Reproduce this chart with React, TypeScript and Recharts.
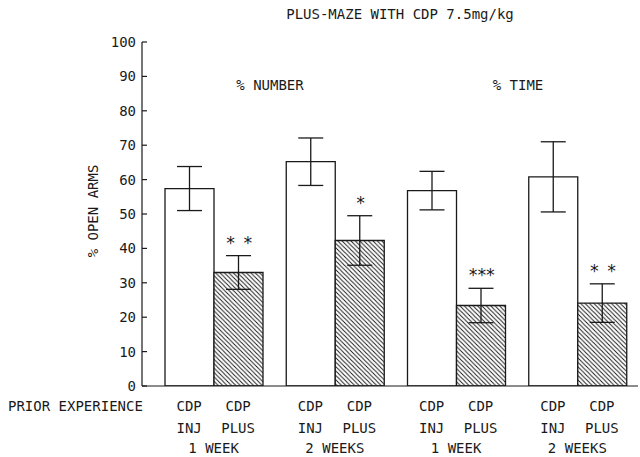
import React from 'react';
import { BarChart, Bar, XAxis, YAxis, ErrorBar, LabelList } from 'recharts';

const groups = ['1 WEEK', '2 WEEKS', '1 WEEK', '2 WEEKS'];
const injValues = [57.4, 65.2, 56.8, 60.8];
const injErrors = [6.4, 6.9, 5.6, 10.2];
const plusValues = [33.0, 42.3, 23.4, 24.1];
const plusErrors = [4.9, 7.2, 5.0, 5.6];
const plusStars = ['* *', '*', '***', '* *'];
const yTicks = [0, 10, 20, 30, 40, 50, 60, 70, 80, 90, 100];
const barRow1 = ['CDP', 'CDP'];
const barRow2 = ['INJ', 'PLUS'];
const title = 'PLUS-MAZE WITH CDP 7.5mg/kg';
const panelLabels = ['% NUMBER', '% TIME'];
const yLabel = '% OPEN ARMS';
const rowLabel = 'PRIOR EXPERIENCE';

const data = groups.map((g, i) => ({
  key: `g${i}`,
  group: g,
  inj: injValues[i],
  injErr: injErrors[i],
  plus: plusValues[i],
  plusErr: plusErrors[i],
  stars: plusStars[i],
}));

const FONT = '"DejaVu Sans Mono", monospace';
const FS = 14;
const INK = '#1a1a1a';

const XTick = (props: any) => {
  const { x, y, payload, index } = props;
  const half = 24.5;
  const g = data[index] ? data[index].group : payload.value;
  return (
    <g fontFamily={FONT} fontSize={FS} fill={INK}>
      <text x={x - half} y={y + 25} textAnchor="middle">{barRow1[0]}</text>
      <text x={x + half} y={y + 25} textAnchor="middle">{barRow1[1]}</text>
      <text x={x - half} y={y + 47} textAnchor="middle">{barRow2[0]}</text>
      <text x={x + half} y={y + 47} textAnchor="middle">{barRow2[1]}</text>
      <text x={x} y={y + 67} textAnchor="middle">{g}</text>
    </g>
  );
};

const YTick = (props: any) => {
  const { x, y, payload } = props;
  return (
    <g>
      <line x1={x} x2={x + 5} y1={y} y2={y} stroke={INK} strokeWidth={1.2} />
      <text x={x - 6} y={y + 5} textAnchor="end" fontFamily={FONT} fontSize={FS} fill={INK}>
        {payload.value}
      </text>
    </g>
  );
};

const StarLabel = (props: any) => {
  const { x, y, width, height, value, index } = props;
  const v = plusValues[index];
  if (!v) return null;
  const ppu = height / v;
  const cy = y - plusErrors[index] * ppu - 17;
  return (
    <text
      x={x + width / 2}
      y={cy + 10}
      textAnchor="middle"
      fontFamily={FONT}
      fontSize={17}
      letterSpacing={-1.5}
      fill={INK}
    >
      {value}
    </text>
  );
};

export default function App() {
  return (
    <div style={{ position: 'absolute', left: 0, top: 0, width: 640, height: 457, background: '#fff' }}>
      <svg width={0} height={0} style={{ position: 'absolute' }}>
        <defs>
          <pattern id="hatch" patternUnits="userSpaceOnUse" width={4.4} height={4.4}>
            <rect x={0} y={0} width={4.4} height={4.4} fill="#fff" />
            <path d="M0,0 L4.4,4.4 M-1,3.4 L1,5.4 M3.4,-1 L5.4,1" stroke="#111" strokeWidth={0.9} />
          </pattern>
        </defs>
      </svg>
      <BarChart
        width={640}
        height={457}
        data={data}
        margin={{ top: 42, right: 2, bottom: 0, left: 0 }}
        barSize={49}
        barGap={0}
      >
        <XAxis
          dataKey="key"
          height={71}
          padding={{ left: 11, right: 0 }}
          tickLine={false}
          tickSize={0}
          tickMargin={0}
          axisLine={{ stroke: INK, strokeWidth: 1.2 }}
          tick={<XTick />}
          interval={0}
        />
        <YAxis
          width={142}
          domain={[0, 100]}
          ticks={yTicks}
          type="number"
          allowDataOverflow
          tickLine={false}
          tickSize={0}
          tickMargin={0}
          axisLine={{ stroke: INK, strokeWidth: 1.2 }}
          tick={<YTick />}
          interval={0}
        />
        <Bar dataKey="inj" fill="#fff" stroke={INK} strokeWidth={1.3} isAnimationActive={false}>
          <ErrorBar dataKey="injErr" width={12.5} stroke={INK} strokeWidth={1.3} />
        </Bar>
        <Bar dataKey="plus" fill="url(#hatch)" stroke={INK} strokeWidth={1.3} isAnimationActive={false}>
          <ErrorBar dataKey="plusErr" width={12.5} stroke={INK} strokeWidth={1.3} />
          <LabelList dataKey="stars" content={<StarLabel />} />
        </Bar>
      </BarChart>
      <svg
        width={640}
        height={457}
        style={{ position: 'absolute', left: 0, top: 0, pointerEvents: 'none' }}
        fontFamily={FONT}
        fontSize={FS}
        fill={INK}
      >
        <text x={400} y={19} textAnchor="middle">{title}</text>
        <text x={270} y={90} textAnchor="middle">{panelLabels[0]}</text>
        <text x={518} y={90} textAnchor="middle">{panelLabels[1]}</text>
        <text x={8} y={411}>{rowLabel}</text>
        <text x={0} y={0} textAnchor="middle" transform="translate(98,211) rotate(-90)">{yLabel}</text>
      </svg>
    </div>
  );
}
